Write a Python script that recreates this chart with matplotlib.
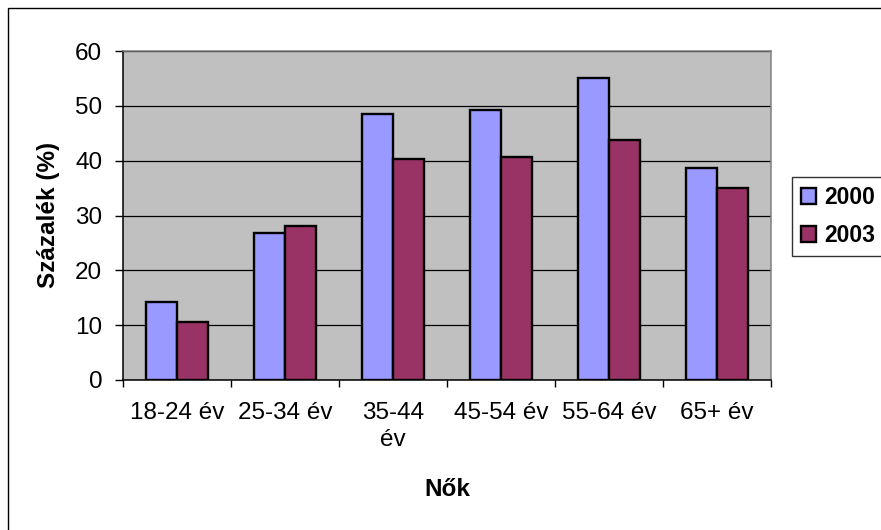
import numpy as np
import matplotlib
matplotlib.use("Agg")
import matplotlib.pyplot as plt
from matplotlib.patches import Rectangle

# data
categories = ["18-24 év", "25-34 év", "35-44 év", "45-54 év", "55-64 év", "65+ év"]
tick_labels = ["18-24 év", "25-34 év", "35-44\név", "45-54 év", "55-64 év", "65+ év"]
years = ["2000", "2003"]
v2000 = [14.3, 26.8, 48.6, 49.2, 55.1, 38.6]
v2003 = [10.6, 28.1, 40.3, 40.7, 43.7, 35.1]
colors = ["#9999FF", "#993366"]

plt.rcParams["font.family"] = ["Liberation Sans", "DejaVu Sans"]
plt.rcParams["font.size"] = 17.5

W, H = 881, 530
fig = plt.figure(figsize=(W / 100, H / 100), dpi=100)
ax = fig.add_axes([123 / W, 1 - 380 / H, (771 - 123) / W, (380 - 51) / H])
ax.set_facecolor("#C0C0C0")

x = np.arange(len(categories))
bw = 1 / 3.5  # excel gap width 150
bars = []
for i, vals in enumerate([v2000, v2003]):
    b = ax.bar(x + (i - 0.5) * bw, vals, width=bw, color=colors[i],
               edgecolor="black", linewidth=1.7, label=years[i], zorder=3)
    bars.append(b)

ax.set_xlim(-0.5, len(categories) - 0.5)
ax.set_ylim(0, 60)
ax.set_yticks(range(0, 61, 10))
ax.yaxis.grid(True, color="black", linewidth=0.9, zorder=1)
ax.set_axisbelow(True)

# category labels centered, ticks at boundaries
ax.set_xticks(x)
ax.set_xticklabels(tick_labels, linespacing=1.3)
ax.set_xticks(np.arange(-0.5, len(categories)), minor=True)
ax.tick_params(axis="x", which="major", length=0, pad=16)
ax.tick_params(axis="x", which="minor", length=5, width=1, direction="out")
ax.tick_params(axis="y", length=6, width=1, direction="out", pad=9)

for s in ["left", "bottom"]:
    ax.spines[s].set_color("black")
    ax.spines[s].set_linewidth(1.1)
for s in ["top", "right"]:
    ax.spines[s].set_color("#808080")
    ax.spines[s].set_linewidth(1.1)

fig.text(49 / W, 1 - 215 / H, "Százalék (%)", rotation=90, fontweight="bold",
         ha="center", va="center")
fig.text(447 / W, 1 - 490 / H, "Nők", fontweight="bold", ha="center", va="center")

leg = fig.legend(handles=bars, labels=years, loc="upper left",
                 bbox_to_anchor=(792 / W, 1 - 177 / H), frameon=True,
                 fancybox=False, edgecolor="black", fontsize=16.5,
                 handlelength=0.65, handleheight=0.65, handletextpad=0.35,
                 labelspacing=0.65, borderpad=0.4, borderaxespad=0)
leg.get_frame().set_linewidth(1)
for t in leg.get_texts():
    t.set_fontweight("bold")

# outer chart border
fig.patches.append(Rectangle((8 / W, -0.1), 1.2, 1.1 - 8 / H, transform=fig.transFigure,
                             fill=False, edgecolor="black", linewidth=1))

fig.savefig("out.png", dpi=100)
